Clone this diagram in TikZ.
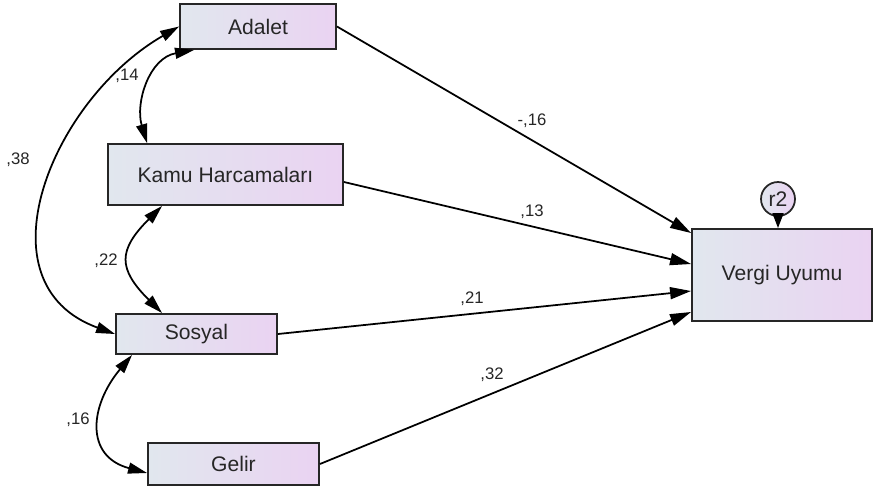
\documentclass[tikz,border=0pt]{standalone}
\usepackage{fontspec}
\setmainfont{Liberation Sans}
\usepackage{xcolor}
\usepackage{tikz}
\usetikzlibrary{
  positioning,
  arrows.meta,
  calc
}
\definecolor{boxleft}{HTML}{E1E7EE}
\definecolor{boxright}{HTML}{EAD3F2}
\definecolor{boxedge}{HTML}{262626}

\begin{document}
\begin{tikzpicture}[x=0.02cm, y=-0.02cm,
  var/.style={draw=boxedge, line width=1.1pt, left color=boxleft, right color=boxright,
    text=black!85, font=\fontsize{12}{14}\selectfont, inner sep=0pt},
  effect/.style={-{Triangle[length=0.42cm,width=0.24cm]}, line width=1pt},
  cov/.style={{Triangle[length=0.38cm,width=0.22cm]}-{Triangle[length=0.38cm,width=0.22cm]}, line width=1pt},
  coef/.style={font=\fontsize{9.5}{11}\selectfont, text=black!85}
]
  % 画布
  \fill[white] (0,0) rectangle (878,491);
  \useasboundingbox (0,0) rectangle (878,491);

  % 变量框
  \node[var, minimum width=3.12cm, minimum height=0.9cm] (adalet) at (258,26.5) {Adalet};
  \node[var, minimum width=4.7cm, minimum height=1.22cm] (kamu) at (225.5,174.5) {Kamu Harcamaları};
  \node[var, minimum width=3.22cm, minimum height=0.8cm] (sosyal) at (196.5,334) {Sosyal};
  \node[var, minimum width=3.42cm, minimum height=0.84cm] (gelir) at (233.5,464) {Gelir};
  \node[var, minimum width=3.6cm, minimum height=1.84cm] (vergi) at (782,275) {Vergi Uyumu};

  % 误差项
  \node[var, circle, minimum size=0.68cm, line width=1pt] (r2) at (778,199) {r2};
  \draw[-{Triangle[length=0.3cm,width=0.22cm]}, line width=1pt] (r2) -- (r2 |- vergi.north);

  % 路径
  \draw[effect] (adalet.east) -- ([yshift=0.84cm]vergi.west);
  \draw[effect] ([yshift=-0.15cm]kamu.east) -- ([yshift=0.22cm]vergi.west);
  \draw[effect] (sosyal.east) -- ([yshift=-0.32cm]vergi.west);
  \draw[effect] (gelir.east) -- ([yshift=-0.74cm]vergi.west);
  \node[coef] (b1) at (532,121) {-,16};
  \node[coef] (b2) at (532,212) {,13};
  \node[coef] (b3) at (472,299) {,21};
  \node[coef] (b4) at (492,375) {,32};

  % 协方差
  \draw[cov] (adalet.west) to[out=210, in=160, looseness=1.2] (sosyal.west);
  \draw[cov] ([xshift=0.3cm]adalet.south west) .. controls +(-45,8) and +(-12,-40) ..
    ([xshift=0.8cm]kamu.north west);
  \draw[cov] ([xshift=1.1cm]kamu.south west) to[out=225, in=135, looseness=1.5]
    ([xshift=0.94cm]sosyal.north west);
  \draw[cov] ([xshift=0.34cm]sosyal.south west) to[out=230, in=165, looseness=1.4]
    ([yshift=-0.18cm]gelir.west);
  \node[coef] (c1) at (18,160) {,38};
  \node[coef] (c2) at (127,76) {,14};
  \node[coef] (c3) at (106,261) {,22};
  \node[coef] (c4) at (78,420) {,16};
\end{tikzpicture}
\end{document}
